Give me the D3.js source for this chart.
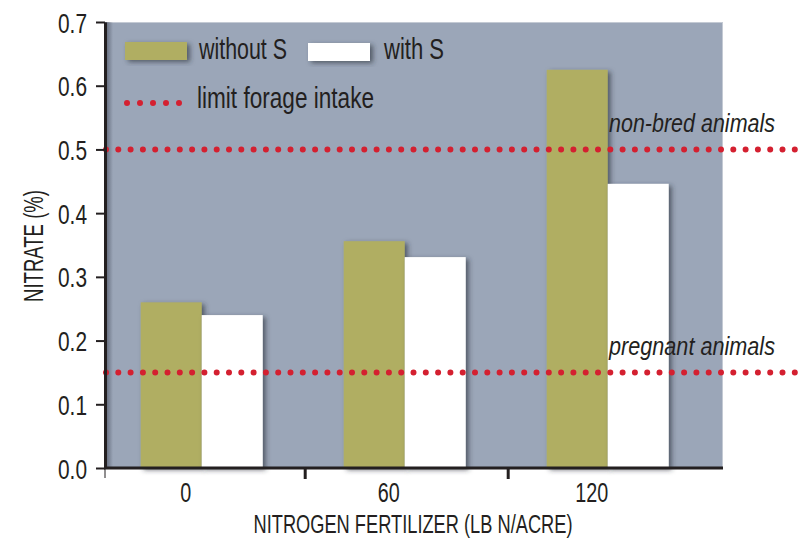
<!DOCTYPE html>
<html>
<head>
<meta charset="utf-8">
<script src="https://cdn.jsdelivr.net/npm/d3@7/dist/d3.min.js"></script>
<style>
  html, body { margin: 0; padding: 0; background: #fff; }
  svg { display: block; }
  text { font-family: "Liberation Sans", Arial, sans-serif; fill: #231f20; }
</style>
</head>
<body>
<svg id="chart" width="799" height="551"></svg>
<script>
const categories = ["0", "60", "120"];
const seriesNames = ["without S", "with S"];
const withoutS = [0.26, 0.356, 0.625];
const withS = [0.24, 0.331, 0.446];
const yTicks = [0.0, 0.1, 0.2, 0.3, 0.4, 0.5, 0.6, 0.7];
const limitValues = [0.5, 0.15];
const limitLabels = ["non-bred animals", "pregnant animals"];
const legendLimitLabel = "limit forage intake";
const xTitle = "NITROGEN FERTILIZER (LB N/ACRE)";
const yTitle = "NITRATE (%)";

const colors = { "without S": "#b0ae62", "with S": "#ffffff" };
const bg = "#9ba6b8";
const red = "#d42030";

const svg = d3.select("#chart");
const plotL = 105, plotR = 723, plotT = 22, plotB = 468;

const y = d3.scaleLinear().domain([0, 0.7]).range([plotB, plotT]);
const x = d3.scaleBand().domain(categories).range([100.2, 709.2]);
const x1 = d3.scaleBand().domain(seriesNames).range([0, 122]);

const defs = svg.append("defs");
const f = defs.append("filter").attr("id", "shadow").attr("x", "-20%").attr("y", "-20%").attr("width", "150%").attr("height", "150%");
f.append("feDropShadow").attr("dx", 3).attr("dy", 2).attr("stdDeviation", 2.5)
  .attr("flood-color", "#2a2f3a").attr("flood-opacity", 0.65);
const g1 = defs.append("linearGradient").attr("id", "lshadow").attr("x1", 0).attr("x2", 1).attr("y1", 0).attr("y2", 0);
g1.append("stop").attr("offset", 0).attr("stop-color", "#4a5060").attr("stop-opacity", 0.8);
g1.append("stop").attr("offset", 1).attr("stop-color", "#4a5060").attr("stop-opacity", 0);

// plot background
svg.append("rect").attr("x", plotL).attr("y", plotT).attr("width", plotR - plotL).attr("height", plotB - plotT)
  .attr("fill", bg);
svg.append("line").attr("x1", plotL).attr("x2", plotR).attr("y1", plotT + 0.5).attr("y2", plotT + 0.5)
  .attr("stroke", "#c4cad4").attr("stroke-width", 1);
svg.append("line").attr("x1", plotR - 0.5).attr("x2", plotR - 0.5).attr("y1", plotT).attr("y2", plotB)
  .attr("stroke", "#c4cad4").attr("stroke-width", 1);
svg.append("rect").attr("x", plotL).attr("y", plotT).attr("width", 8).attr("height", plotB - plotT)
  .attr("fill", "url(#lshadow)");

// bars
const data = categories.map((c, i) => ({ cat: c, vals: [
  { s: "without S", v: withoutS[i] }, { s: "with S", v: withS[i] } ] }));
const groups = svg.append("g").selectAll("g").data(data).join("g")
  .attr("transform", d => `translate(${x(d.cat) + x.bandwidth() / 2 - 61},0)`);
groups.selectAll("rect").data(d => d.vals).join("rect")
  .attr("x", d => x1(d.s))
  .attr("width", x1.bandwidth())
  .attr("y", d => y(d.v))
  .attr("height", d => y(0) - y(d.v))
  .attr("fill", d => colors[d.s])
  .attr("filter", "url(#shadow)");

// limit lines
svg.append("g").selectAll("line").data(limitValues).join("line")
  .attr("x1", 106).attr("x2", 799)
  .attr("y1", d => y(d)).attr("y2", d => y(d))
  .attr("stroke", red).attr("stroke-width", 6).attr("stroke-linecap", "round")
  .attr("stroke-dasharray", "0 12.3");
svg.append("g").selectAll("text").data(limitLabels).join("text")
  .attr("x", 609).attr("y", (d, i) => y(limitValues[i]) - 17)
  .attr("font-size", 25).attr("font-style", "italic")
  .attr("textLength", 166).attr("lengthAdjust", "spacingAndGlyphs")
  .text(d => d);

// legend
const leg = svg.append("g");
leg.append("rect").attr("x", 125).attr("y", 42).attr("width", 62).attr("height", 18)
  .attr("fill", colors["without S"]).attr("filter", "url(#shadow)");
leg.append("text").attr("x", 199).attr("y", 59).attr("font-size", 29)
  .attr("textLength", 88).attr("lengthAdjust", "spacingAndGlyphs").text(seriesNames[0]);
leg.append("rect").attr("x", 308).attr("y", 43).attr("width", 62).attr("height", 18)
  .attr("fill", colors["with S"]).attr("filter", "url(#shadow)");
leg.append("text").attr("x", 384).attr("y", 59).attr("font-size", 29)
  .attr("textLength", 60).attr("lengthAdjust", "spacingAndGlyphs").text(seriesNames[1]);
leg.append("line").attr("x1", 127).attr("x2", 180).attr("y1", 103).attr("y2", 103)
  .attr("stroke", red).attr("stroke-width", 6).attr("stroke-linecap", "round")
  .attr("stroke-dasharray", "0 13");
leg.append("text").attr("x", 197).attr("y", 108).attr("font-size", 29)
  .attr("textLength", 177).attr("lengthAdjust", "spacingAndGlyphs").text(legendLimitLabel);

// y axis
const yAxis = svg.append("g").attr("transform", `translate(${plotL},0)`)
  .call(d3.axisLeft(y).tickValues(yTicks).tickFormat(d3.format(".1f")).tickSize(9).tickSizeOuter(0).tickPadding(9));
yAxis.select(".domain").attr("stroke", "#231f20").attr("stroke-width", 3);
yAxis.selectAll(".tick line").attr("stroke", "#231f20").attr("stroke-width", 2);
yAxis.selectAll(".tick text").attr("font-size", 28).attr("fill", "#231f20")
  .attr("font-family", null).attr("dy", "0.36em")
  .attr("textLength", 29).attr("lengthAdjust", "spacingAndGlyphs");

// x axis
const xAxis = svg.append("g").attr("transform", `translate(0,${plotB})`);
xAxis.append("line").attr("x1", plotL - 1).attr("x2", plotR).attr("y1", 0).attr("y2", 0)
  .attr("stroke", "#231f20").attr("stroke-width", 3);
const bounds = categories.slice(1).map(c => x(c));
xAxis.selectAll("line.tk").data(bounds).join("line").attr("class", "tk")
  .attr("x1", d => d + 2).attr("x2", d => d + 2).attr("y1", 0).attr("y2", 11)
  .attr("stroke", "#231f20").attr("stroke-width", 3);
xAxis.append("line").attr("x1", plotL).attr("x2", plotL).attr("y1", 0).attr("y2", 10)
  .attr("stroke", "#231f20").attr("stroke-width", 1);
xAxis.selectAll("text.lbl").data(categories).join("text").attr("class", "lbl")
  .attr("x", d => x(d) + x.bandwidth() / 2 - 16).attr("y", 34)
  .attr("text-anchor", "middle").attr("font-size", 28)
  .attr("textLength", d => d.length * 11).attr("lengthAdjust", "spacingAndGlyphs")
  .text(d => d);

// titles
svg.append("text").attr("x", 413).attr("y", 533).attr("text-anchor", "middle")
  .attr("font-size", 25).attr("textLength", 319).attr("lengthAdjust", "spacingAndGlyphs").text(xTitle);
svg.append("text").attr("transform", "translate(43,246) rotate(-90)").attr("text-anchor", "middle")
  .attr("font-size", 28).attr("textLength", 112).attr("lengthAdjust", "spacingAndGlyphs").text(yTitle);
</script>
</body>
</html>
